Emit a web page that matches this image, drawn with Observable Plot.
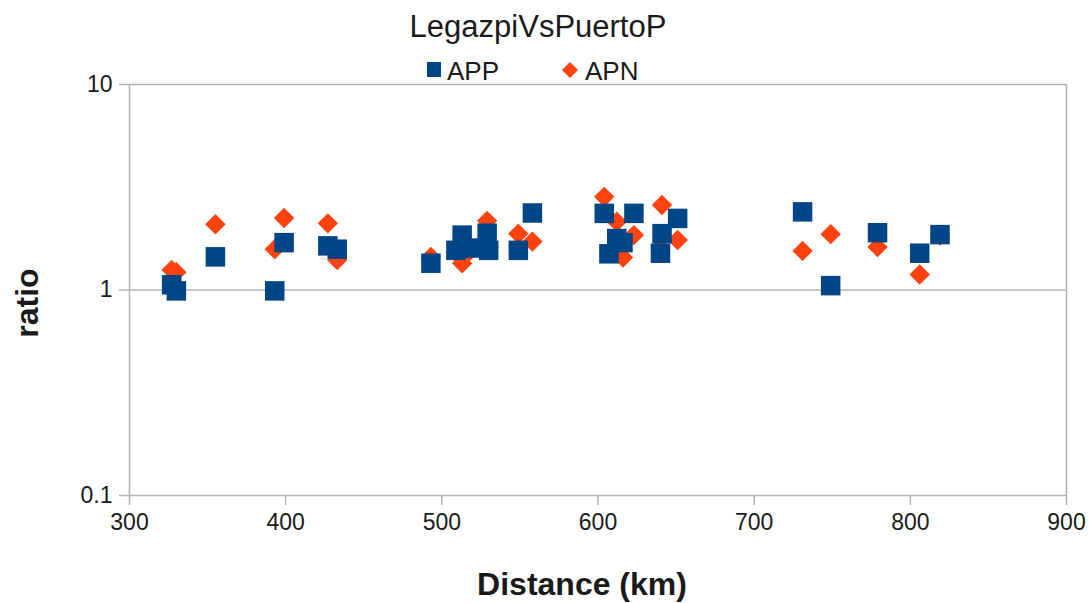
<!DOCTYPE html>
<html>
<head>
<meta charset="utf-8">
<script src="https://cdn.jsdelivr.net/npm/d3@7"></script>
<script src="https://cdn.jsdelivr.net/npm/@observablehq/plot@0.6"></script>
<style>
  body { margin: 0; background: #fff; font-family: "Liberation Sans", Arial, sans-serif; color: #1a1a1a; }
  #wrap { width: 1091px; height: 603px; position: relative; overflow: hidden; }
  .title { height: 50px; line-height: 54px; font-size: 31px; text-align: center; padding-right: 15px; white-space: nowrap; }
  .legend { position: relative; height: 22px; }
  .legend .lab { position: absolute; top: 8px; font-size: 26px; line-height: 26px; }
  .legend svg { position: absolute; overflow: visible; }
</style>
</head>
<body>
<div id="wrap">
  <div class="title">LegazpiVsPuertoP</div>
  <div class="legend" id="legend"></div>
  <div id="chart"></div>
</div>
<script>
// Station distance from the source (km) and the two measured ratios
const distance = [327, 330, 355, 393, 399, 427, 433, 493, 509, 513, 518, 529, 530, 549, 558,
                  604, 607, 612, 616, 623, 640, 641, 651, 731, 749, 779, 806, 819];
const appRatio = [1.06, 0.99, 1.45, 0.99, 1.70, 1.64, 1.58, 1.35, 1.56, 1.85, 1.60, 1.89, 1.56, 1.56, 2.37,
                  2.36, 1.50, 1.78, 1.70, 2.36, 1.51, 1.88, 2.23, 2.40, 1.05, 1.90, 1.51, 1.86];
const apnRatio = [1.25, 1.22, 2.09, 1.58, 2.24, 2.11, 1.40, 1.45, 1.52, 1.35, 1.55, 2.17, 1.62, 1.88, 1.72,
                  2.84, 1.52, 2.15, 1.44, 1.85, 1.60, 2.59, 1.75, 1.55, 1.87, 1.62, 1.19, 1.84];

const seriesNames = ["APP", "APN"];
const seriesColors = ["#004586", "#ff420e"];
const xTicks = [300, 400, 500, 600, 700, 800, 900];
const yTicks = [0.1, 1, 10];
const yTickLabels = ["0.1", "1", "10"];

const appRows = distance.map((d, i) => ({distance: d, ratio: appRatio[i]}));
const apnRows = distance.map((d, i) => ({distance: d, ratio: apnRatio[i]}));

const gridColor = "#b3b3b3";

const chart = Plot.plot({
  width: 1091,
  height: 531,
  marginTop: 12,
  marginLeft: 129,
  marginRight: 25,
  marginBottom: 108,
  style: {fontFamily: "'Liberation Sans', Arial, sans-serif", fontSize: "23px", color: "#1a1a1a", background: "#fff", overflow: "visible"},
  x: {type: "linear", domain: [300, 900]},
  y: {type: "log", domain: [0.1, 10]},
  marks: [
    Plot.ruleY(yTicks, {stroke: gridColor, strokeWidth: 1.5}),
    Plot.ruleX([xTicks[0], xTicks[xTicks.length - 1]], {stroke: gridColor, strokeWidth: 1.5}),
    Plot.axisX(xTicks, {tickSize: 10, tickPadding: 8, stroke: gridColor, fill: "#1a1a1a", strokeWidth: 1.5, label: null, tickFormat: d => String(d)}),
    Plot.axisY(yTicks, {tickSize: 10, tickPadding: 7, stroke: gridColor, fill: "#1a1a1a", strokeWidth: 1.5, label: null,
                        tickFormat: d => yTickLabels[yTicks.indexOf(d)]}),
    // APN drawn first so the APP squares sit on top
    Plot.dot(apnRows, {x: "distance", y: "ratio", symbol: "diamond2", r: 9.2, fill: seriesColors[1], stroke: "none"}),
    Plot.dot(appRows, {x: "distance", y: "ratio", symbol: "square", r: 11, fill: seriesColors[0], stroke: "none"}),
    Plot.text(["Distance (km)"], {frameAnchor: "bottom", textAnchor: "middle", lineAnchor: "middle", dy: 89, dx: -16,
                                  fontWeight: "bold", fontSize: 32, fill: "#1a1a1a"}),
    Plot.text(["ratio"], {frameAnchor: "left", textAnchor: "middle", lineAnchor: "middle", rotate: -90, dx: -102, dy: 13,
                          fontWeight: "bold", fontSize: 32, fill: "#1a1a1a"})
  ]
});
document.getElementById("chart").appendChild(chart);

// Legend: swatch + series name for each series
const legend = d3.select("#legend");
const legendX = [427, 562];
seriesNames.forEach((name, i) => {
  const sw = legend.append("svg").attr("width", 16).attr("height", 16)
    .style("left", legendX[i] + "px").style("top", "12px");
  if (i === 0) {
    sw.append("rect").attr("x", 0).attr("y", 0).attr("width", 14).attr("height", 15).attr("fill", seriesColors[i]);
  } else {
    sw.append("path").attr("d", "M8,0L16,8L8,16L0,8Z").attr("fill", seriesColors[i]);
  }
  legend.append("span").attr("class", "lab").style("left", (legendX[i] + (i === 0 ? 20 : 23)) + "px").text(name);
});
</script>
</body>
</html>
